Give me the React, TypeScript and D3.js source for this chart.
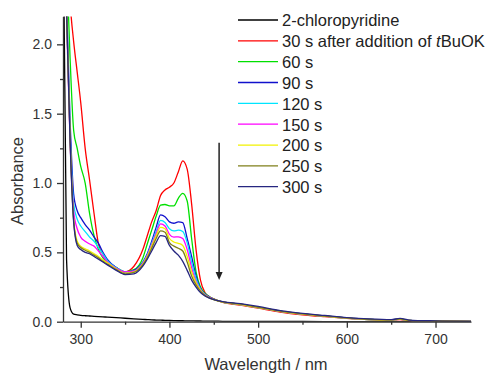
import React, { useEffect, useRef } from 'react';
import * as d3 from 'd3';

// wavelength grid (nm) shared by every trace
const wavelengths = [
  280, 284, 288, 292, 296, 300, 305, 310, 315, 320, 325, 330, 340, 350, 360, 370, 375, 380, 385, 390,
  395, 400, 405, 410, 415, 420, 425, 430, 435, 440, 445, 450, 460, 480, 500, 525, 550, 575, 600, 625,
  650, 660, 670, 700, 740,
];

const chloropyridine = [
  3.0, 0.45, 0.1, 0.055, 0.05, 0.046, 0.043, 0.041, 0.039, 0.037, 0.035, 0.033, 0.029, 0.025, 0.021, 0.017, 0.015, 0.013, 0.012, 0.011,
  0.01, 0.009, 0.008, 0.007, 0.007, 0.006, 0.006, 0.005, 0.005, 0.004, 0.004, 0.004, 0.003, 0.003, 0.002, 0.002, 0.002, 0.001, 0.001, 0.001,
  0.001, 0.001, 0.001, 0.001, 0.001,
];
const s30 = [
  3.5, 2.8, 2.3, 2.02, 1.8, 1.58, 1.25, 1.02, 0.78, 0.56, 0.49, 0.44, 0.39, 0.36, 0.4, 0.52, 0.62, 0.72, 0.8, 0.91,
  0.95, 0.97, 1.0, 1.08, 1.16, 1.1, 0.85, 0.52, 0.3, 0.21, 0.18, 0.165, 0.14, 0.12, 0.098, 0.07, 0.05, 0.036, 0.024, 0.015,
  0.011, 0.016, 0.008, 0.004, 0.002,
];
const s60 = [
  3.2, 2.6, 1.9, 1.38, 1.25, 1.12, 1.0, 0.78, 0.62, 0.52, 0.46, 0.43, 0.39, 0.36, 0.375, 0.46, 0.56, 0.66, 0.76, 0.84,
  0.845, 0.835, 0.835, 0.89, 0.925, 0.87, 0.6, 0.36, 0.25, 0.205, 0.18, 0.163, 0.142, 0.124, 0.102, 0.074, 0.054, 0.04, 0.026, 0.016,
  0.012, 0.019, 0.009, 0.005, 0.002,
];
const s90 = [
  3.0, 2.3, 1.45, 0.92, 0.8, 0.75, 0.7, 0.66, 0.61, 0.565, 0.5, 0.45, 0.39, 0.355, 0.37, 0.43, 0.49, 0.58, 0.68, 0.77,
  0.757, 0.72, 0.71, 0.72, 0.715, 0.6, 0.47, 0.33, 0.24, 0.2, 0.178, 0.162, 0.143, 0.126, 0.104, 0.076, 0.056, 0.041, 0.027, 0.017,
  0.013, 0.02, 0.01, 0.005, 0.002,
];
const s120 = [
  3.0, 2.25, 1.35, 0.85, 0.74, 0.69, 0.65, 0.61, 0.58, 0.535, 0.49, 0.44, 0.39, 0.36, 0.365, 0.425, 0.48, 0.565, 0.65, 0.73,
  0.715, 0.67, 0.655, 0.66, 0.65, 0.57, 0.43, 0.31, 0.235, 0.198, 0.175, 0.16, 0.142, 0.124, 0.102, 0.074, 0.054, 0.04, 0.026, 0.016,
  0.012, 0.019, 0.009, 0.005, 0.002,
];
const s150 = [
  3.0, 2.2, 1.3, 0.8, 0.67, 0.61, 0.58, 0.56, 0.545, 0.51, 0.47, 0.43, 0.385, 0.36, 0.365, 0.42, 0.475, 0.555, 0.635, 0.705,
  0.69, 0.63, 0.61, 0.612, 0.6, 0.52, 0.39, 0.29, 0.23, 0.195, 0.175, 0.16, 0.142, 0.124, 0.102, 0.074, 0.054, 0.04, 0.026, 0.016,
  0.012, 0.019, 0.009, 0.005, 0.002,
];
const s200 = [
  3.0, 2.25, 1.33, 0.74, 0.58, 0.545, 0.525, 0.51, 0.49, 0.47, 0.445, 0.425, 0.38, 0.35, 0.36, 0.415, 0.47, 0.545, 0.62, 0.68,
  0.67, 0.6, 0.575, 0.565, 0.55, 0.47, 0.36, 0.28, 0.225, 0.19, 0.172, 0.16, 0.142, 0.124, 0.102, 0.074, 0.054, 0.04, 0.026, 0.016,
  0.012, 0.019, 0.009, 0.005, 0.002,
];
const s250 = [
  3.0, 2.25, 1.32, 0.73, 0.565, 0.535, 0.515, 0.5, 0.48, 0.46, 0.435, 0.415, 0.375, 0.345, 0.355, 0.41, 0.46, 0.53, 0.6, 0.655,
  0.645, 0.57, 0.545, 0.53, 0.51, 0.43, 0.33, 0.265, 0.22, 0.19, 0.172, 0.16, 0.143, 0.126, 0.104, 0.076, 0.056, 0.041, 0.027, 0.017,
  0.013, 0.02, 0.01, 0.005, 0.002,
];
const s300 = [
  3.0, 2.25, 1.3, 0.72, 0.55, 0.52, 0.5, 0.49, 0.47, 0.45, 0.43, 0.41, 0.37, 0.34, 0.345, 0.4, 0.45, 0.51, 0.57, 0.62,
  0.615, 0.55, 0.51, 0.48, 0.435, 0.37, 0.3, 0.25, 0.21, 0.185, 0.17, 0.16, 0.145, 0.13, 0.11, 0.08, 0.06, 0.045, 0.03, 0.02,
  0.015, 0.024, 0.012, 0.006, 0.003,
];

const labels = ['2-chloropyridine', '30 s after addition of ', '60 s', '90 s', '120 s', '150 s', '200 s', '250 s', '300 s'];
const colors = ['#000000', '#ff0000', '#00e000', '#1010cc', '#00e5ff', '#ff00ff', '#f2f200', '#7f7f1a', '#262680'];
const traces = [chloropyridine, s30, s60, s90, s120, s150, s200, s250, s300];

const yMajor = [0, 0.5, 1, 1.5, 2];
const yMinor = [0.25, 0.75, 1.25, 1.75];
const xMajor = [300, 400, 500, 600, 700];
const xMinor = [350, 450, 550, 650];
// arrow annotation in data units
const arrowNm = 456;
const arrowFrom = 1.29;
const arrowTo = 0.3;

const FONT = '"Liberation Sans", Arial, sans-serif';

export default function App() {
  const ref = useRef<SVGSVGElement>(null);

  useEffect(() => {
    if (!ref.current) return;
    const svg = d3.select(ref.current);
    svg.selectAll('*').remove();

    const x = d3.scaleLinear().domain([280, 740]).range([63, 471]);
    const y = d3.scaleLinear().domain([0, 2.2]).range([321.7, 16.6]);
    const [x0, x1] = x.range();
    const [yb, yt] = y.range();

    svg.append('defs').append('clipPath').attr('id', 'plot')
      .append('rect').attr('x', x0).attr('y', yt).attr('width', x1 - x0).attr('height', yb - yt);

    const line = d3.line<number>()
      .x((_, i) => x(wavelengths[i]))
      .y(d => y(d))
      .curve(d3.curveMonotoneX);

    const g = svg.append('g').attr('clip-path', 'url(#plot)');
    traces.forEach((t, i) => {
      g.append('path').attr('d', line(t)!).attr('fill', 'none')
        .attr('stroke', colors[i]).attr('stroke-width', 1.3).attr('stroke-linejoin', 'round');
    });

    // axes
    const axisColor = '#333';
    const yAx = svg.append('g').attr('transform', `translate(${x0},0)`)
      .call(d3.axisLeft(y).tickValues(yMajor).tickFormat(d3.format('.1f')).tickSize(6).tickSizeOuter(0).tickPadding(5));
    svg.append('g').attr('transform', `translate(${x0},0)`)
      .call(d3.axisLeft(y).tickValues(yMinor).tickFormat(() => '').tickSize(3).tickSizeOuter(0))
      .select('.domain').remove();
    const xAx = svg.append('g').attr('transform', `translate(0,${yb})`)
      .call(d3.axisBottom(x).tickValues(xMajor).tickFormat(d3.format('d')).tickSize(6).tickSizeOuter(0).tickPadding(6));
    svg.append('g').attr('transform', `translate(0,${yb})`)
      .call(d3.axisBottom(x).tickValues(xMinor).tickFormat(() => '').tickSize(3).tickSizeOuter(0))
      .select('.domain').remove();
    svg.selectAll('.domain, .tick line').attr('stroke', axisColor).attr('stroke-width', 1.3);
    [yAx, xAx].forEach(a => a.selectAll('text')
      .attr('font-family', FONT).attr('font-size', 14).attr('fill', axisColor));

    // axis titles
    svg.append('text').attr('x', 266).attr('y', 369.5).attr('text-anchor', 'middle')
      .attr('font-family', FONT).attr('font-size', 16.5).attr('fill', axisColor).text('Wavelength / nm');
    svg.append('text').attr('transform', 'translate(22.5,181) rotate(-90)').attr('text-anchor', 'middle')
      .attr('font-family', FONT).attr('font-size', 16.5).attr('fill', axisColor).text('Absorbance');

    // arrow
    const ax = x(arrowNm);
    svg.append('line').attr('x1', ax).attr('x2', ax).attr('y1', y(arrowFrom)).attr('y2', y(arrowTo) - 6)
      .attr('stroke', '#222').attr('stroke-width', 1.5);
    svg.append('path')
      .attr('d', `M${ax - 3.5},${y(arrowTo) - 8} L${ax + 3.5},${y(arrowTo) - 8} L${ax},${y(arrowTo)} Z`)
      .attr('fill', '#222');

    // legend
    const leg = svg.append('g');
    labels.forEach((lab, i) => {
      const ry = 20 + i * 20.84;
      leg.append('line').attr('x1', 238).attr('x2', 278).attr('y1', ry).attr('y2', ry)
        .attr('stroke', colors[i]).attr('stroke-width', 1.3);
      const t = leg.append('text').attr('x', 282).attr('y', ry + 6.3)
        .attr('font-family', FONT).attr('font-size', 16.5).attr('fill', '#222').text(lab);
      if (i === 1) {
        t.append('tspan').attr('font-style', 'italic').text('t');
        t.append('tspan').text('BuOK');
      }
    });
  }, []);

  return (
    <svg ref={ref} width={493} height={373}
      style={{ position: 'absolute', left: 0, top: 0, background: '#fff' }} />
  );
}
